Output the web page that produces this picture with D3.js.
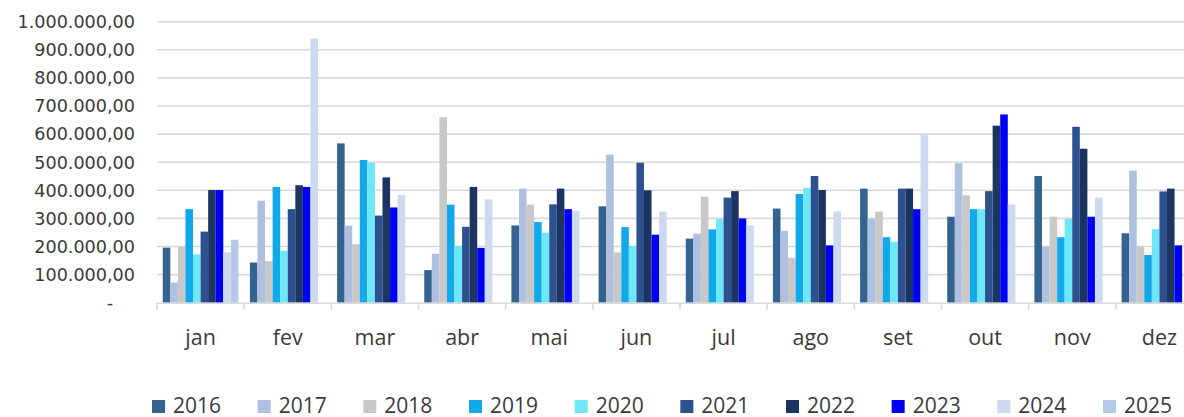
<!DOCTYPE html>
<html><head><meta charset="utf-8">
<script src="https://cdn.jsdelivr.net/npm/d3@7"></script>
<style>body{margin:0;background:#fff}svg{display:block}</style>
</head><body><svg id="c" width="1184" height="417"></svg>
<script>
const months = ["jan","fev","mar","abr","mai","jun","jul","ago","set","out","nov","dez"];
const years = ["2016","2017","2018","2019","2020","2021","2022","2023","2024","2025"];
const v2016 = [196000,143000,567000,116000,275000,343000,228000,335000,406000,306000,451000,247000];
const v2017 = [72000,363000,274000,174000,406000,527000,246000,256000,298000,496000,199000,470000];
const v2018 = [200000,148000,208000,660000,349000,179000,377000,160000,324000,382000,306000,199000];
const v2019 = [333000,412000,508000,349000,287000,269000,261000,387000,233000,333000,233000,170000];
const v2020 = [172000,185000,498000,202000,249000,202000,298000,409000,217000,333000,298000,262000];
const v2021 = [253000,333000,310000,270000,350000,498000,374000,451000,406000,397000,626000,396000];
const v2022 = [401000,418000,446000,412000,406000,400000,397000,401000,406000,630000,548000,406000];
const v2023 = [401000,412000,339000,195000,333000,242000,300000,204000,333000,670000,306000,204000];
const v2024 = [179000,940000,383000,368000,327000,324000,275000,325000,597000,350000,374000,null];
const v2025 = [224000,null,null,null,null,null,null,null,null,null,null,null];
const yTicks = [0,100000,200000,300000,400000,500000,600000,700000,800000,900000,1000000];
const tickLabels = ["-","100.000,00","200.000,00","300.000,00","400.000,00","500.000,00","600.000,00","700.000,00","800.000,00","900.000,00","1.000.000,00"];
const colors = ["#34638f","#aebfe0","#c8c8c8","#12a9ea","#6ee8f8","#2d518f","#1c3461","#0000f5","#cdd9ee","#b6c9e6"];

const series = [v2016,v2017,v2018,v2019,v2020,v2021,v2022,v2023,v2024,v2025];
const svg = d3.select("#c");
const x0 = d3.scaleBand().domain(months).range([157, 1203]).paddingInner(0).paddingOuter(0);
const x1 = d3.scaleBand().domain(years).range([0, x0.bandwidth()]).paddingInner(0).paddingOuter(0.76);
const y = d3.scaleLinear().domain([0, 1000000]).range([302.7, 21.7]);
const color = d3.scaleOrdinal().domain(years).range(colors);

// gridlines
svg.append("g").selectAll("line").data(yTicks.filter(d=>d>0)).join("line")
  .attr("x1",157).attr("x2",1184).attr("y1",d=>y(d)).attr("y2",d=>y(d))
  .attr("stroke","#d9d9d9").attr("stroke-width",1.6);

// y labels
svg.append("g").selectAll("text").data(yTicks).join("text")
  .attr("x",d=>d===0?113:135).attr("y",d=>y(d)).attr("dy","0.36em")
  .attr("text-anchor","end").attr("font-family","DejaVu Sans").attr("font-size",17.6)
  .attr("fill","#3a3a3a").text((d,i)=>tickLabels[i]);

// bars
const g = svg.append("g");
months.forEach((m,mi)=>{
  const gm = g.append("g").attr("transform",`translate(${x0(m)},0)`);
  gm.selectAll("rect").data(years.map((yr,yi)=>({yr, v: series[yi][mi]})).filter(d=>d.v!=null))
    .join("rect")
    .attr("x",d=>x1(d.yr)).attr("width",x1.bandwidth())
    .attr("y",d=>y(d.v)).attr("height",d=>y(0)-y(d.v))
    .attr("fill",d=>color(d.yr));
});

// x axis
const xa = svg.append("g");
xa.append("line").attr("x1",157).attr("x2",1184).attr("y1",y(0)+0.5).attr("y2",y(0)+0.5)
  .attr("stroke","#d9d9d9").attr("stroke-width",1.6);
const edges = months.map(m=>x0(m)).concat([x0("dez")+x0.bandwidth()]);
xa.selectAll("line.t").data(edges).join("line").attr("class","t")
  .attr("x1",d=>d).attr("x2",d=>d).attr("y1",y(0)).attr("y2",y(0)+7)
  .attr("stroke","#d9d9d9").attr("stroke-width",1.6);
xa.selectAll("text").data(months).join("text")
  .attr("x",d=>x0(d)+x0.bandwidth()/2).attr("y",345)
  .attr("text-anchor","middle").attr("font-family","Open Sans").attr("font-size",21.5)
  .attr("fill","#3a3a3a").text(d=>d);

// legend
const lg = svg.append("g");
const lx = d3.scalePoint().domain(years).range([152, 1103]);
years.forEach(yr=>{
  lg.append("rect").attr("x",lx(yr)).attr("y",400).attr("width",13).attr("height",13).attr("fill",color(yr));
  lg.append("text").attr("x",lx(yr)+21).attr("y",412.5).attr("font-family","Open Sans").attr("font-size",21)
    .attr("fill","#3a3a3a").text(yr);
});
</script></body></html>
